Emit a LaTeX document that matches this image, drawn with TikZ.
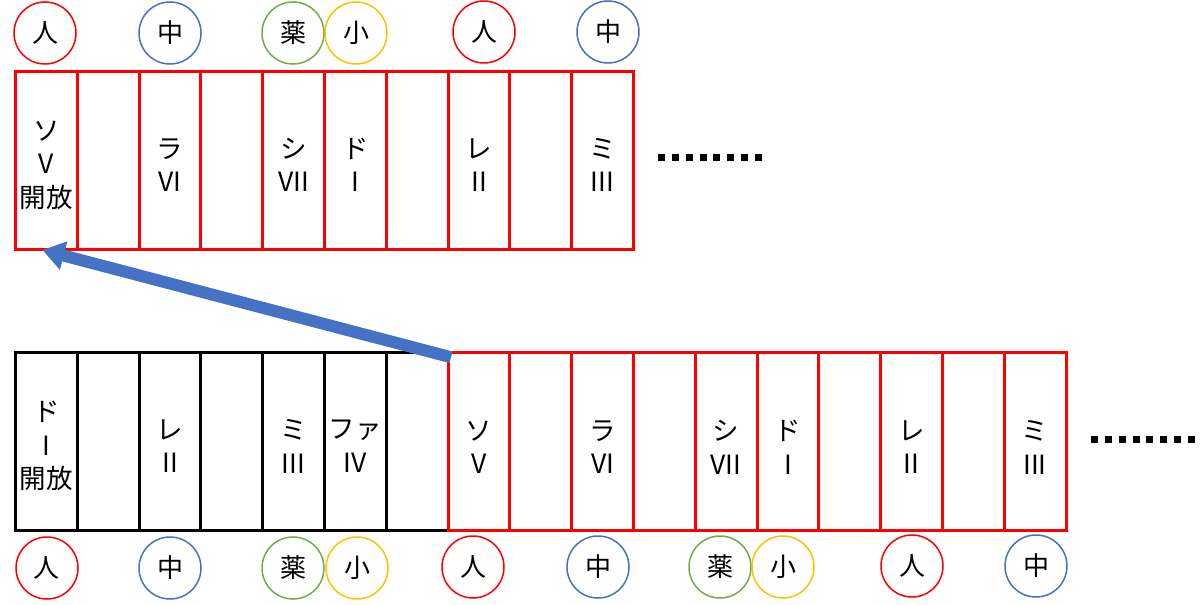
\documentclass[tikz,border=0pt]{standalone}
\usepackage{fontspec}
\setmainfont{Noto Sans CJK JP}
\usetikzlibrary{arrows.meta,calc}
\definecolor{cred}{RGB}{255,0,0}
\definecolor{cblue}{RGB}{68,114,196}
\definecolor{cgreen}{RGB}{112,173,71}
\definecolor{cyellow}{RGB}{255,192,0}
\begin{document}
\begin{tikzpicture}[x=1pt,y=-1pt,
  cell/.style={draw, line width=3pt, rectangle, minimum width=61.8pt, minimum height=178pt, inner sep=0pt, outer sep=0pt},
  redcell/.style={cell, draw=cred},
  blackcell/.style={cell, draw=black},
  celltext/.style={align=center, inner sep=0pt, font=\fontsize{26.5}{33.5}\selectfont},
  badge/.style={circle, draw, line width=1.5pt, minimum size=62pt, inner sep=0pt, font=\fontsize{26}{26}\selectfont},
  dotrow/.style={line width=7pt, dash pattern=on 7pt off 6.86pt},
  bigarrow/.style={draw=cblue, line width=12pt, -{Triangle[width=28pt,length=22pt]}, fill=cblue}
]
\useasboundingbox (0,0) rectangle (1200,605);
% top row
\foreach \i in {1,...,10} {
  \node[redcell] (t\i) at ({15.5+61.8*(\i-0.5)},160) {};
}
% bottom black row
\foreach \i in {1,...,7} {
  \node[blackcell] (k\i) at ({15.5+61.8*(\i-0.5)},441.25) {};
}
% bottom red row
\foreach \i in {1,...,10} {
  \node[redcell] (r\i) at ({448+61.8*(\i-0.5)},441.25) {};
}
% top texts
\node[celltext] (tt1) at ($(t1)+(0,5)$) {ソ\\V\\開放};
\node[celltext] (tt3) at ($(t3)+(0,5)$) {ラ\\VI};
\node[celltext] (tt5) at ($(t5)+(0,5)$) {シ\\VII};
\node[celltext] (tt6) at ($(t6)+(0,5)$) {ド\\I};
\node[celltext] (tt8) at ($(t8)+(0,5)$) {レ\\II};
\node[celltext] (tt10) at ($(t10)+(0,5)$) {ミ\\III};
% bottom black texts
\node[celltext] (kt1) at ($(k1)+(0,5)$) {ド\\I\\開放};
\node[celltext] (kt3) at ($(k3)+(0,5)$) {レ\\II};
\node[celltext] (kt5) at ($(k5)+(0,5)$) {ミ\\III};
\node[celltext] (kt6) at ($(k6)+(0,5)$) {ファ\\IV};
% bottom red texts
\node[celltext] (rt1) at ($(r1)+(0,6)$) {ソ\\V};
\node[celltext] (rt3) at ($(r3)+(0,6)$) {ラ\\VI};
\node[celltext] (rt5) at ($(r5)+(0,6)$) {シ\\VII};
\node[celltext] (rt6) at ($(r6)+(0,6)$) {ド\\I};
\node[celltext] (rt8) at ($(r8)+(0,6)$) {レ\\II};
\node[celltext] (rt10) at ($(r10)+(0,6)$) {ミ\\III};
% top circles
\node[badge, draw=cred] (c1) at (45,33) {人};
\node[badge, draw=cblue] (c2) at (170,33) {中};
\node[badge, draw=cgreen] (c3) at (293,33) {薬};
\node[badge, draw=cyellow] (c4) at (356,33) {小};
\node[badge, draw=cred] (c5) at (484,32) {人};
\node[badge, draw=cblue] (c6) at (608,32) {中};
% bottom circles
\node[badge, draw=cred] (d1) at (47,568) {人};
\node[badge, draw=cblue] (d2) at (170,568) {中};
\node[badge, draw=cgreen] (d3) at (293,568) {薬};
\node[badge, draw=cyellow] (d4) at (357,568) {小};
\node[badge, draw=cred] (d5) at (473,567) {人};
\node[badge, draw=cblue] (d6) at (598,567) {中};
\node[badge, draw=cgreen] (d7) at (720,567) {薬};
\node[badge, draw=cyellow] (d8) at (783,567) {小};
\node[badge, draw=cred] (d9) at (912,566) {人};
\node[badge, draw=cblue] (d10) at (1036,566) {中};
% dots
\coordinate (dt1) at (658,157.5);
\coordinate (dt2) at (762,157.5);
\draw[dotrow] (dt1) -- (dt2);
\coordinate (db1) at (1091,439);
\coordinate (db2) at (1195,439);
\draw[dotrow] (db1) -- (db2);
% arrow
\coordinate (atail) at ($(r1.north west)+(3,5)$);
\coordinate (ahead) at ($(t1.south)+(-4,1)$);
\draw[bigarrow] (atail) -- (ahead);
\end{tikzpicture}
\end{document}
